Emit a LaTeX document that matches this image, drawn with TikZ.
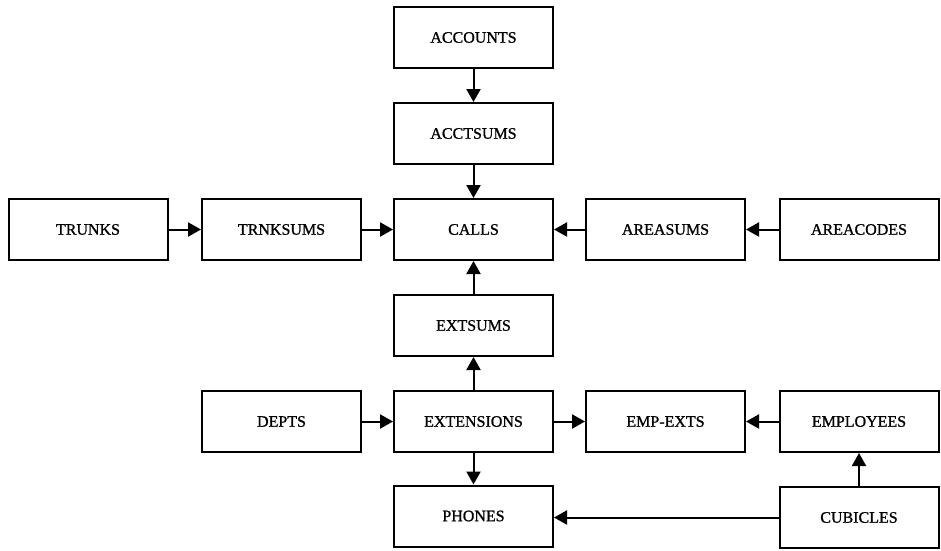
\documentclass[tikz,border=0pt]{standalone}
\usepackage{fontspec}
\setmainfont{Liberation Serif}
\newfontfamily\boxfont{Liberation Serif}[FakeBold=1]
\usetikzlibrary{arrows.meta}
\begin{document}
\begin{tikzpicture}[x=1pt,y=-1pt,
  table/.style={draw, line width=2pt, minimum width=159pt, minimum height=61pt,
    inner sep=0pt, font=\boxfont\fontsize{16}{18}\selectfont},
  link/.style={line width=2pt, -{Triangle[length=13pt,width=14pt]}}]
  \useasboundingbox (0,0) rectangle (941,550);
  % column: accounts to phones
  \node[table] (accounts)   at (473.5,37.5)  {ACCOUNTS};
  \node[table] (acctsums)   at (473.5,133.5) {ACCTSUMS};
  \node[table] (calls)      at (473.5,229.5) {CALLS};
  \node[table] (extsums)    at (473.5,325.5) {EXTSUMS};
  \node[table] (extensions) at (473.5,421.5) {EXTENSIONS};
  \node[table] (phones)     at (473.5,516)   {PHONES};
  % row of calls
  \node[table] (trunks)     at (88,229.5)    {TRUNKS};
  \node[table] (trnksums)   at (281.5,229.5) {TRNKSUMS};
  \node[table] (areasums)   at (665.5,229.5) {AREASUMS};
  \node[table] (areacodes)  at (859,229.5)   {AREACODES};
  % row of extensions
  \node[table] (depts)      at (281.5,421.5) {DEPTS};
  \node[table] (empexts)    at (665.5,421.5) {EMP-EXTS};
  \node[table] (employees)  at (859,421.5)   {EMPLOYEES};
  \node[table] (cubicles)   at (859,517.5)   {CUBICLES};
  % connectors
  \draw[link] (accounts) -- (acctsums);
  \draw[link] (acctsums) -- (calls);
  \draw[link] (trunks) -- (trnksums);
  \draw[link] (trnksums) -- (calls);
  \draw[link] (areacodes) -- (areasums);
  \draw[link] (areasums) -- (calls);
  \draw[link] (extsums) -- (calls);
  \draw[link] (extensions) -- (extsums);
  \draw[link] (depts) -- (extensions);
  \draw[link] (extensions) -- (empexts);
  \draw[link] (employees) -- (empexts);
  \draw[link] (extensions) -- (phones);
  \draw[link] (cubicles) -- (employees);
  \draw[link] (cubicles) -- (cubicles -| phones.east);
\end{tikzpicture}
\end{document}
